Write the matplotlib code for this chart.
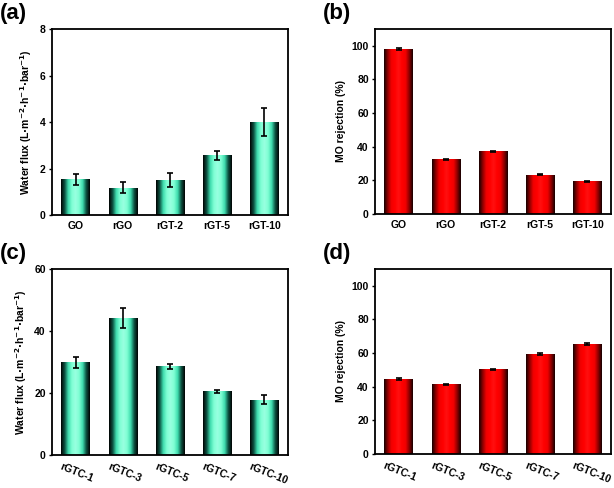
import numpy as np
import matplotlib.pyplot as plt
import matplotlib.transforms as mtransforms
from matplotlib.colors import LinearSegmentedColormap

plt.rcParams['font.family'] = ['Liberation Sans', 'DejaVu Sans']
plt.rcParams['font.weight'] = 'bold'

labels_ab = ['GO', 'rGO', 'rGT-2', 'rGT-5', 'rGT-10']
flux_a = [1.53, 1.18, 1.51, 2.56, 4.0]
flux_a_err = [0.25, 0.22, 0.30, 0.19, 0.59]
rej_b = [98.2, 32.5, 37.2, 23.4, 19.4]
rej_b_err = [0.4, 0.4, 0.5, 0.4, 0.4]

labels_cd = ['rGTC-1', 'rGTC-3', 'rGTC-5', 'rGTC-7', 'rGTC-10']
flux_c = [29.9, 44.1, 28.6, 20.6, 17.8]
flux_c_err = [1.7, 3.2, 0.9, 0.5, 1.4]
rej_d = [44.6, 41.4, 50.3, 59.4, 65.5]
rej_d_err = [0.4, 0.4, 0.4, 0.4, 0.4]

green = LinearSegmentedColormap.from_list('g', ['#000000', '#0c5040', '#3fdcae', '#7fffd4', '#99ffe0',
                                                '#7fffd4', '#3fdcae', '#0c5040', '#000000'])
red = LinearSegmentedColormap.from_list('r', ['#140000', '#8a0000', '#f00000', '#ff0000', '#ff1010',
                                              '#ff0000', '#f00000', '#8a0000', '#140000'])

flux_label = r'Water flux (L$\cdot$m$^{-2}$$\cdot$h$^{-1}$$\cdot$bar$^{-1}$)'
rej_label = 'MO rejection (%)'

fig = plt.figure(figsize=(6.14, 4.88), dpi=100)
W, H = 614, 488


def panel(rect, labels, vals, errs, cmap, ymax, yticks, ylabel, tag, rot):
    x0, y0, x1, y1 = rect
    ax = fig.add_axes([x0 / W, 1 - y1 / H, (x1 - x0) / W, (y1 - y0) / H])
    x = np.arange(len(labels))
    bars = ax.bar(x, vals, width=0.6, color='none', edgecolor='none', zorder=2)
    grad = np.linspace(0, 1, 256).reshape(1, -1)
    for b in bars:
        im = ax.imshow(grad, cmap=cmap, aspect='auto', zorder=2,
                       extent=[b.get_x(), b.get_x() + b.get_width(), 0, b.get_height()])
        im.set_clip_path(b)
    ax.errorbar(x, vals, yerr=errs, fmt='none', ecolor='black', elinewidth=1.2,
                capsize=2.5, capthick=1.2, zorder=3)
    ax.set_xlim(-0.5, len(labels) - 0.5)
    ax.set_ylim(0, ymax)
    ax.set_yticks(yticks)
    ax.set_xticks(x)
    if rot:
        # rotated labels drawn by hand, starting left of the bar centre
        ax.set_xticklabels([])
        base = ax.get_xaxis_transform()
        shift = mtransforms.ScaledTranslation(-13 / 100, -7 / 100, fig.dpi_scale_trans)
        for xi, lab in zip(x, labels):
            ax.text(xi, 0, lab, transform=base + shift, rotation=-22, ha='left', va='top',
                    rotation_mode='anchor', fontsize=7.5, fontweight='bold')
    else:
        ax.set_xticklabels(labels)
    ax.tick_params(axis='x', length=0, labelsize=7.5, pad=4)
    ax.tick_params(axis='y', length=2.5, width=1, labelsize=7.5, pad=2)
    for s in ax.spines.values():
        s.set_linewidth(1.3)
    ax.set_ylabel(ylabel, fontsize=7.5, fontweight='bold', labelpad=4)
    fig.text((x0 - 52) / W, 1 - (y0 - 15) / H, tag, fontsize=16, fontweight='bold',
             va='center', ha='left')
    return ax


panel((52, 29, 288, 215), labels_ab, flux_a, flux_a_err, green, 8, [0, 2, 4, 6, 8], flux_label, '(a)', False)
panel((375, 29, 611, 214), labels_ab, rej_b, rej_b_err, red, 110, [0, 20, 40, 60, 80, 100], rej_label, '(b)', False)
panel((52, 269, 288, 455), labels_cd, flux_c, flux_c_err, green, 60, [0, 20, 40, 60], flux_label, '(c)', True)
panel((375, 269, 611, 454), labels_cd, rej_d, rej_d_err, red, 110, [0, 20, 40, 60, 80, 100], rej_label, '(d)', True)

fig.savefig('out.png', dpi=100)
